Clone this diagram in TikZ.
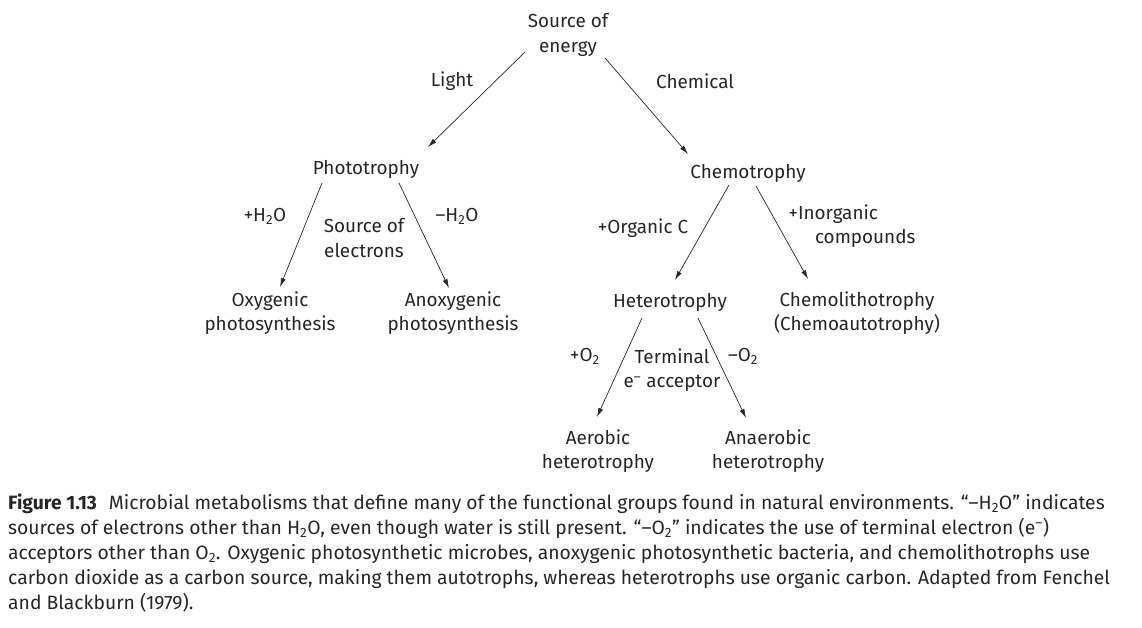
\documentclass[tikz,border=0pt]{standalone}
\usepackage{fontspec}
\setmainfont{Fira Sans}
\usetikzlibrary{arrows.meta}
\definecolor{ink}{HTML}{262626}

\begin{document}
\begin{tikzpicture}[x = 1pt, y = -1pt, > = {Latex[length = 9pt, width = 5pt]},
	every node/.style = {font = \fontsize{18.9}{24.5}\selectfont, text = ink, align = center, inner sep = 0pt},
	link/.style = {->, draw = ink, line width = 0.7pt}]

	% Frame
	
	\useasboundingbox (0, 0) rectangle (1142, 628);
	
	% Source of energy
	
	\node (src) at (568, 35) {Source of\\energy};
	\node (light) at (452, 81) {Light};
	\node (chem) at (695, 81) {Chemical};
	
	\node (photo) at (366, 169) {Phototrophy};
	\node (chemo) at (748, 173) {Chemotrophy};
	
	\draw [link] ([shift = {(-43, 17)}] src.center) -- ([shift = {(62, -22)}] photo.center);
	\draw [link] ([shift = {(37, 23)}] src.center) -- ([shift = {(-60, -19)}] chemo.center);
	
	% Phototrophy: source of electrons
	
	\node (ph2o) at (265, 216) {+H\textsubscript{2}O};
	\node (srce) at (364, 238) {Source of\\electrons};
	\node (mh2o) at (457, 216) {–H\textsubscript{2}O};
	
	\node (oxy) at (270, 313) {Oxygenic\\photosynthesis};
	\node (anoxy) at (453, 313) {Anoxygenic\\photosynthesis};
	
	\draw [link] ([shift = {(-44, 14)}] photo.center) -- ([shift = {(10, -26)}] oxy.center);
	\draw [link] ([shift = {(33, 14)}] photo.center) -- ([shift = {(-4, -25)}] anoxy.center);
	
	% Chemotrophy: carbon source
	
	\node (orgc) at (643, 228) {+Organic C};
	\node (inorg) at (852, 226) [align = left] {+Inorganic\\\hspace*{1.4em}compounds};
	
	\node (hetero) at (670, 302) {Heterotrophy};
	\node (litho) at (857, 313) {Chemolithotrophy\\(Chemoautotrophy)};
	
	\draw [link] ([shift = {(-19, 12)}] chemo.center) -- ([shift = {(5, -22)}] hetero.center);
	\draw [link] ([shift = {(8, 13)}] chemo.center) -- ([shift = {(-49, -34)}] litho.center);
	
	% Heterotrophy: terminal electron acceptor
	
	\node (po2) at (585, 356) {+O\textsubscript{2}};
	\node (term) at (672, 370) {Terminal\\e\textsuperscript{–} acceptor};
	\node (mo2) at (743, 356) {–O\textsubscript{2}};
	
	\node (aer) at (598, 451) {Aerobic\\heterotrophy};
	\node (anaer) at (768, 451) {Anaerobic\\heterotrophy};
	
	\draw [link] ([shift = {(-28, 16)}] hetero.center) -- ([shift = {(-1, -34)}] aer.center);
	\draw [link] ([shift = {(28, 16)}] hetero.center) -- ([shift = {(-22, -33)}] anaer.center);
	
	% Caption
	
	\node (caption) at (8, 494) [anchor = north west, align = left, font = \fontsize{19.3}{25}\selectfont] {%
		\textbf{Figure 1.13}\hspace{0.35em} Microbial metabolisms that define many of the functional groups found in natural environments. “–H\textsubscript{2}O” indicates\\
		sources of electrons other than H\textsubscript{2}O, even though water is still present. “–O\textsubscript{2}” indicates the use of terminal electron (e\textsuperscript{–})\\
		acceptors other than O\textsubscript{2}. Oxygenic photosynthetic microbes, anoxygenic photosynthetic bacteria, and chemolithotrophs use\\
		carbon dioxide as a carbon source, making them autotrophs, whereas heterotrophs use organic carbon. Adapted from Fenchel\\
		and Blackburn (1979).};

\end{tikzpicture}
\end{document}
